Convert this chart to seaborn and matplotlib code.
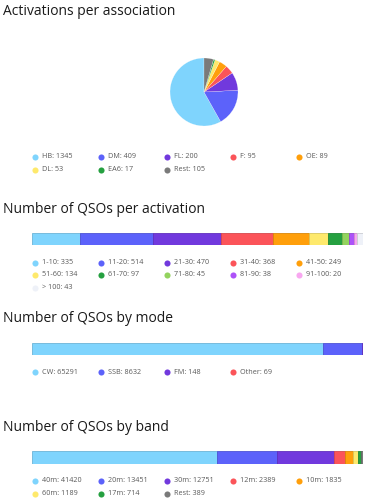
import matplotlib
matplotlib.use("Agg")
import matplotlib.pyplot as plt
import seaborn as sns
from matplotlib.colors import to_rgb
from matplotlib.lines import Line2D

# data
assoc_labels = ["HB", "DM", "FL", "F", "OE", "DL", "EA6", "Rest"]
assoc_values = [1345, 409, 200, 95, 89, 53, 17, 105]

act_labels = ["1-10", "11-20", "21-30", "31-40", "41-50", "51-60",
              "61-70", "71-80", "81-90", "91-100", "> 100"]
act_values = [335, 514, 470, 368, 249, 134, 97, 45, 38, 20, 43]

mode_labels = ["CW", "SSB", "FM", "Other"]
mode_values = [65291, 8632, 148, 69]

band_labels = ["40m", "20m", "30m", "12m", "10m", "60m", "17m", "Rest"]
band_values = [41420, 13451, 12751, 2389, 1835, 1189, 714, 389]

# colours
LBLUE, BLUE, PURPLE, RED = "#7fd4fd", "#5c62fa", "#7139dd", "#fb5459"
ORANGE, YELLOW, GREEN, GRAY = "#ff9f0b", "#fee96c", "#25a040", "#7a7a7a"
assoc_colors = [LBLUE, BLUE, PURPLE, RED, ORANGE, YELLOW, GREEN, GRAY]
act_colors = [LBLUE, BLUE, PURPLE, RED, ORANGE, YELLOW, GREEN,
              "#93d35e", "#ad52f8", "#f8a7f0", "#eef1f8"]
mode_colors = [LBLUE, BLUE, PURPLE, RED]
band_colors = [LBLUE, BLUE, PURPLE, RED, ORANGE, YELLOW, GREEN, GRAY]

sns.set_theme(style="white")
plt.rcParams["font.family"] = ["Open Sans", "DejaVu Sans"]

W, H = 365, 500
fig = plt.figure(figsize=(W / 100, H / 100), dpi=100)


def px_box(x0, y0, x1, y1):
    # pixel box (top-left origin) -> figure fraction rect
    return [x0 / W, 1 - y1 / H, (x1 - x0) / W, (y1 - y0) / H]


def title(text, baseline):
    fig.text(3 / W, 1 - baseline / H, text, fontsize=10.0, color="#1a1a1a",
             va="baseline", ha="left")


def darker(c, f=0.85):
    r, g, b = to_rgb(c)
    return (r * f, g * f, b * f)


def legend(labels, values, colors, row_y):
    for i, (lab, val, col) in enumerate(zip(labels, values, colors)):
        cx = 35.3 + 66 * (i % 5)
        cy = row_y + 12.5 * (i // 5)
        fig.add_artist(Line2D([cx / W], [1 - cy / H], marker="o", markersize=4.4,
                              color=col, markeredgewidth=0, transform=fig.transFigure))
        fig.text((cx + 6.2) / W, 1 - cy / H, f"{lab}: {val}", fontsize=5.2,
                 color="#5a5a5a", va="center", ha="left")


def stacked_bar(values, colors, y0, y1):
    ax = fig.add_axes(px_box(32, y0, 363, y1))
    left = 0
    for v, c in zip(values, colors):
        ax.barh(0, v, left=left, height=1, color=c, edgecolor=darker(c), linewidth=0.6)
        left += v
    ax.set_xlim(0, sum(values))
    ax.set_ylim(-0.5, 0.5)
    ax.axis("off")
    return ax


# 1. pie of activations per association
title("Activations per association", 15)
ax_pie = fig.add_axes(px_box(161.5, 49.5, 246.5, 134.5))
ax_pie.pie(assoc_values, colors=assoc_colors, startangle=90, counterclock=True,
           wedgeprops=dict(edgecolor="white", linewidth=0.15))
ax_pie.set_aspect("equal")
legend(assoc_labels, assoc_values, assoc_colors, 157)

# 2. QSOs per activation
title("Number of QSOs per activation", 213)
stacked_bar(act_values, act_colors, 233, 245)
legend(act_labels, act_values, act_colors, 262.5)

# 3. QSOs by mode
title("Number of QSOs by mode", 322)
stacked_bar(mode_values, mode_colors, 342.5, 354.5)
legend(mode_labels, mode_values, mode_colors, 372)

# 4. QSOs by band
title("Number of QSOs by band", 431)
stacked_bar(band_values, band_colors, 451, 463.5)
legend(band_labels, band_values, band_colors, 481)

fig.savefig("out.png", dpi=100)
